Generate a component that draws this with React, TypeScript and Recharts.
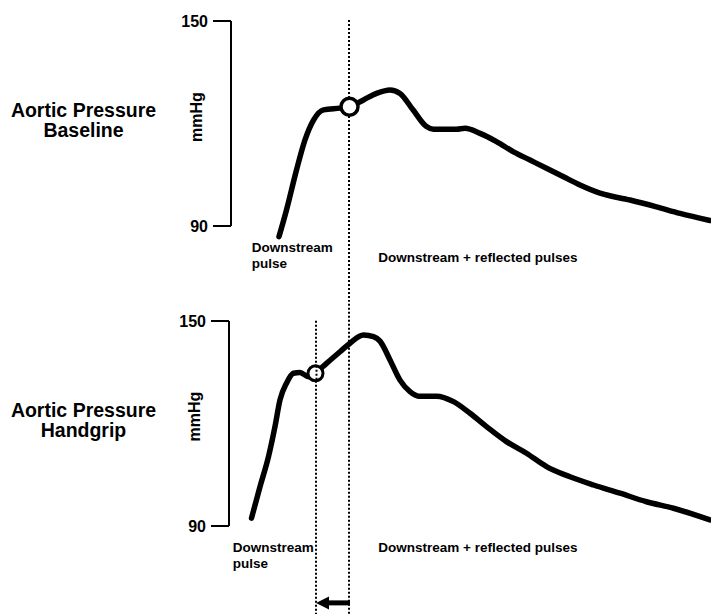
import React from 'react';
import { LineChart, Line, XAxis, YAxis, ReferenceLine, ReferenceDot } from 'recharts';

// time (ms, arbitrary origin at the axis) and pressure (mmHg)
const baselineTime = [96, 111, 131, 148, 165, 185, 218, 238, 265, 291, 318, 338, 364, 391, 405, 451, 468, 498, 531, 565, 598, 631, 665, 698, 738, 798, 851, 898, 958];
const baselinePressure = [86.9, 94.7, 106.4, 115.2, 121.0, 124.0, 124.5, 124.9, 126.9, 128.8, 129.8, 128.8, 124.0, 119.1, 118.3, 118.3, 118.6, 117.1, 114.7, 111.7, 109.3, 106.9, 104.4, 102.0, 99.6, 97.6, 95.6, 93.7, 91.6];

const handgripTime = [41, 58, 75, 88, 98, 111, 125, 138, 155, 168, 191, 218, 238, 265, 285, 298, 318, 338, 358, 375, 411, 445, 478, 511, 551, 591, 631, 678, 725, 778, 831, 885, 958];
const handgripPressure = [92.3, 101.5, 110.3, 119.1, 126.9, 131.8, 134.7, 134.9, 133.7, 134.7, 137.6, 141.0, 143.5, 145.9, 145.4, 144.1, 138.6, 132.7, 129.3, 128.0, 128.0, 126.4, 123.0, 119.1, 114.7, 111.3, 107.4, 104.4, 102.0, 99.6, 97.1, 95.2, 91.8];

const yTicks = [90, 150];
const baselineInflection = { t: 237, p: 124.9 };
const handgripInflection = { t: 169, p: 134.7 };
const baselineMarkerT = 236;
const handgripMarkerT = 170;

const baselineData = baselineTime.map((t, i) => ({ t, p: baselinePressure[i] }));
const handgripData = handgripTime.map((t, i) => ({ t, p: handgripPressure[i] }));

const FONT = '"Liberation Sans", Arial, Helvetica, sans-serif';

const tickStyle = { fill: '#000', fontSize: 16, fontWeight: 700, fontFamily: FONT };

const dotted = { stroke: '#000', strokeWidth: 2, strokeDasharray: '2 2' };

const Arrow = (props: any) => {
  const { x1, y1, x2, y2 } = props;
  return (
    <g>
      <line x1={x1} y1={y1} x2={x2 + 10} y2={y2} stroke="#000" strokeWidth={5} />
      <polygon points={`${x2},${y2} ${x2 + 13},${y2 - 6.5} ${x2 + 13},${y2 + 6.5}`} fill="#000" />
    </g>
  );
};

// open circle with the dotted marker line still showing through it
const CrossedCircle = (props: any) => {
  const { cx, cy, r } = props;
  return (
    <g>
      <circle cx={cx} cy={cy} r={r} fill="#fff" stroke="#000" strokeWidth={3} />
      <line x1={cx + 1} y1={cy - r} x2={cx + 1} y2={cy + r} {...dotted} />
    </g>
  );
};

export default function App() {
  return (
    <div style={{ position: 'absolute', left: 0, top: 0, width: 711, height: 614, background: '#fff', fontFamily: FONT }}>
      <div style={{ position: 'absolute', left: 0, top: 0 }}>
        <LineChart width={711} height={300} data={baselineData} margin={{ top: 21, right: 0, bottom: 60.33, left: 0 }}>
          <XAxis dataKey="t" type="number" domain={[0, 960]} hide />
          <YAxis
            type="number"
            domain={[86, 150]}
            ticks={yTicks}
            width={231}
            axisLine={false}
            tickLine={{ stroke: '#000', strokeWidth: 2 }}
            tickSize={18}
            tickMargin={5}
            tick={tickStyle}
          />
          <ReferenceLine segment={[{ x: 0, y: 90 }, { x: 0, y: 150 }]} stroke="#000" strokeWidth={2} ifOverflow="visible" />
          <ReferenceLine
            segment={[{ x: baselineMarkerT, y: 150.3 }, { x: baselineMarkerT, y: 68.3 }]}
            {...dotted}
            ifOverflow="visible"
          />
          <Line
            type="monotone"
            dataKey="p"
            stroke="#000"
            strokeWidth={5.5}
            strokeLinejoin="round"
            strokeLinecap="round"
            dot={false}
            activeDot={false}
            isAnimationActive={false}
          />
          <ReferenceDot x={baselineInflection.t} y={baselineInflection.p} r={8.5} fill="#fff" stroke="#000" strokeWidth={3.5} />
        </LineChart>
      </div>
      <div style={{ position: 'absolute', left: 0, top: 300 }}>
        <LineChart width={711} height={314} data={handgripData} margin={{ top: 21, right: 0, bottom: 74.33, left: 0 }}>
          <XAxis dataKey="t" type="number" domain={[-4, 960]} hide />
          <YAxis
            type="number"
            domain={[86, 150]}
            ticks={yTicks}
            width={229}
            axisLine={false}
            tickLine={{ stroke: '#000', strokeWidth: 2 }}
            tickSize={18}
            tickMargin={5}
            tick={tickStyle}
          />
          <ReferenceLine segment={[{ x: -4, y: 90 }, { x: -4, y: 150 }]} stroke="#000" strokeWidth={2} ifOverflow="visible" />
          <Line
            type="monotone"
            dataKey="p"
            stroke="#000"
            strokeWidth={5.5}
            strokeLinejoin="round"
            strokeLinecap="round"
            dot={false}
            activeDot={false}
            isAnimationActive={false}
          />
          <ReferenceLine
            segment={[{ x: baselineMarkerT, y: 156.2 }, { x: baselineMarkerT, y: 64.2 }]}
            {...dotted}
            ifOverflow="visible"
          />
          <ReferenceLine
            segment={[{ x: handgripMarkerT, y: 150.1 }, { x: handgripMarkerT, y: 64.2 }]}
            {...dotted}
            ifOverflow="visible"
          />
          <ReferenceDot x={handgripInflection.t} y={handgripInflection.p} r={7.5} shape={CrossedCircle} />
          <ReferenceLine
            segment={[{ x: baselineMarkerT + 2, y: 67.5 }, { x: handgripMarkerT, y: 67.5 }]}
            ifOverflow="visible"
            shape={Arrow}
          />
        </LineChart>
      </div>
      <svg width={711} height={614} style={{ position: 'absolute', left: 0, top: 0, pointerEvents: 'none' }} fontFamily={FONT} fontWeight={700} fill="#000">
        <text x={83.5} y={116.7} fontSize={19.5} textAnchor="middle">Aortic Pressure</text>
        <text x={83.5} y={136.7} fontSize={19.5} textAnchor="middle">Baseline</text>
        <text x={83.5} y={416.7} fontSize={19.5} textAnchor="middle">Aortic Pressure</text>
        <text x={83.5} y={436.7} fontSize={19.5} textAnchor="middle">Handgrip</text>
        <text x={201.5} y={117} fontSize={16} textAnchor="middle" transform="rotate(-90 201.5 117)">mmHg</text>
        <text x={200} y={416.5} fontSize={16} textAnchor="middle" transform="rotate(-90 200 416.5)">mmHg</text>
        <text x={251.7} y={252.3} fontSize={13.5}>Downstream</text>
        <text x={251.7} y={268.3} fontSize={13.5}>pulse</text>
        <text x={378.3} y={261.7} fontSize={13.5}>Downstream + reflected pulses</text>
        <text x={232.7} y={552.3} fontSize={13.5}>Downstream</text>
        <text x={232.7} y={568.3} fontSize={13.5}>pulse</text>
        <text x={378.3} y={552.3} fontSize={13.5}>Downstream + reflected pulses</text>
      </svg>
    </div>
  );
}
